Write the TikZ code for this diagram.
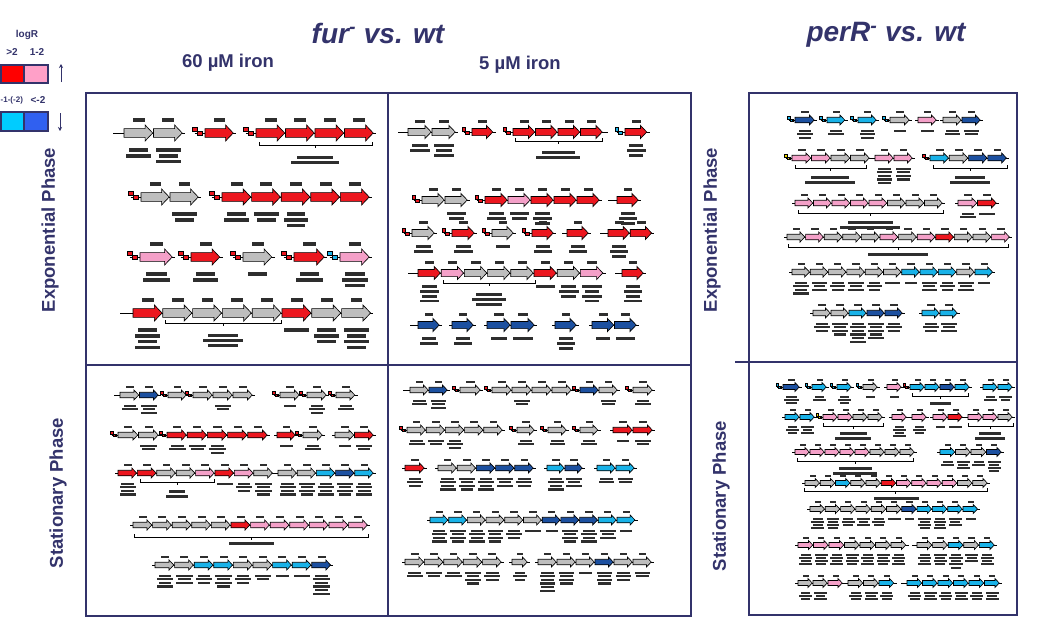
\documentclass[tikz,border=0pt]{standalone}
\usepackage{fontspec}
\setmainfont{Liberation Sans}
\usetikzlibrary{arrows.meta}

\definecolor{navy}{RGB}{51,51,107}
\definecolor{gred}{RGB}{236,22,30}
\definecolor{gpink}{RGB}{244,160,200}
\definecolor{ggray}{RGB}{190,190,190}
\definecolor{gcyan}{RGB}{24,178,232}
\definecolor{gblue}{RGB}{28,80,160}
\definecolor{gyellow}{RGB}{240,220,0}
\definecolor{lgred}{RGB}{255,0,0}
\definecolor{lgpink}{RGB}{255,160,200}
\definecolor{lgcyan}{RGB}{0,204,255}
\definecolor{lgblue}{RGB}{48,96,240}

\tikzset{
  gene/.style={draw=black, line width=0.65pt},
  gline/.style={draw=black, line width=0.7pt},
  lbl/.style={fill=black!82},
  tss/.style={draw=black, line width=0.3pt},
  frame/.style={draw=navy, line width=1.8pt},
  legbox/.style={draw=navy, line width=1.4pt},
  ttl/.style={text=navy, font=\fontsize{28}{30}\selectfont\bfseries\itshape, inner sep=0pt},
  sub/.style={text=navy, font=\fontsize{18.5}{20}\selectfont\bfseries, inner sep=0pt},
  side/.style={text=navy, font=\fontsize{18.5}{20}\selectfont\bfseries, inner sep=0pt, rotate=90},
  lg/.style={text=navy, font=\fontsize{10}{11}\selectfont\bfseries, inner sep=0pt},
  updown/.style={draw=navy, line width=0.9pt, -{Stealth[length=4pt,width=4pt]}},
  brk/.style={draw=black, line width=0.9pt}
}

% a row of adjacent genes: x0, gene width, y, half head height, {colour/label-lines,...}
\newcommand\grow[5]{%
  \foreach \gcol/\gnum [count=\gidx from 0] in {#5}{%
    \draw[gline] ({#1+\gidx*#2-3},#3) -- ({#1+\gidx*#2+#2+2},#3);}%
  \foreach \gcol/\gnum [count=\gidx from 0] in {#5}{%
    \pgfmathsetmacro\xa{#1+\gidx*#2}%
    \pgfmathsetmacro\xb{\xa+#2-0.8}%
    \pgfmathsetmacro\xh{\xb-0.95*#4}%
    \filldraw[gene,fill=\gcol] (\xa,{#3-0.55*#4}) -- (\xh,{#3-0.55*#4}) -- (\xh,{#3-#4}) -- (\xb,#3) -- (\xh,{#3+#4}) -- (\xh,{#3+0.55*#4}) -- (\xa,{#3+0.55*#4}) -- cycle;
    \fill[lbl] ({\xa+0.3*#2},{#3-1.85*#4}) rectangle ({\xa+0.7*#2},{#3-1.42*#4});
    \ifnum\gnum>0
      \foreach \gk in {1,...,\gnum}{%
        \pgfmathsetmacro\gww{(0.84-0.2*mod(\gk+\gidx,2))*#2}%
        \fill[lbl] ({\xa+0.5*#2-0.5*\gww},{#3+1.2*#4+\gk*0.72*#4}) rectangle ++(\gww,{0.45*#4});}%
    \fi
  }%
}
% promoter mark in front of a gene: x of gene start, y, half head height, colour
\newcommand\tssmark[4]{%
  \draw[gline] ({#1-1.3*#3},#2) -- (#1,#2);
  \filldraw[tss,fill=#4] ({#1-1.55*#3},{#2-0.75*#3}) rectangle ++({0.55*#3},{0.55*#3});
  \filldraw[tss,fill=#4] ({#1-1.0*#3},{#2-0.2*#3}) rectangle ++({0.6*#3},{0.5*#3});
}
% operon bracket: x1, x2, y
\newcommand\brkt[3]{%
  \draw[brk] (#1,#3-3) -- (#1,#3) -- (#2,#3) -- (#2,#3-3);
  \draw[brk] ({(#1+#2)/2},#3) -- ++(0,3);
}
% block of small description lines: x centre, y top, width, lines
\newcommand\desc[4]{%
  \foreach \gk in {1,...,#4}{%
    \pgfmathsetmacro\gww{(1-0.25*mod(\gk,2))*#3}%
    \fill[lbl] ({#1-0.5*\gww},{#2+(\gk-1)*5}) rectangle ++(\gww,2.8);}%
}

\begin{document}
\begin{tikzpicture}[x=1pt,y=-1pt]
\useasboundingbox (0,0) rectangle (1056,624);
\fill[white] (0,0) rectangle (1056,624);

% ---------- legend ----------
\node[lg] (lgR) at (27,35) {logR};
\node[lg] (lgA) at (12,52) {>2};
\node[lg] (lgB) at (37,52) {1-2};
\node[lg, anchor=west, font=\fontsize{8}{9}\selectfont\bfseries] (lgC) at (0.5,100) {-1-(-2)};
\node[lg] (lgD) at (38,100) {<-2};
\draw[legbox, fill=lgred] (1,65) rectangle (24,83);
\draw[legbox, fill=lgpink] (24,65) rectangle (48,83);
\draw[legbox, fill=lgcyan] (1,112) rectangle (24,131);
\draw[legbox, fill=lgblue] (24,112) rectangle (48,131);
\coordinate (upA) at (61,82); \coordinate (upB) at (61,64);
\coordinate (dnA) at (60,113); \coordinate (dnB) at (60,131);
\draw[updown] (upA) -- (upB);
\draw[updown] (dnA) -- (dnB);

% ---------- titles ----------
\node[ttl] (furT) at (378,33) {fur\textsuperscript{-} vs. wt};
\node[ttl] (perT) at (886,35) {perR\textsuperscript{-} vs. wt};
\node[sub] (c60) at (228,63) {60 µM iron};
\node[sub] (c5) at (520,65) {5 µM iron};
\node[side] (expL) at (50,230) {Exponential Phase};
\node[side] (staL) at (58,493) {Stationary Phase};
\node[side] (expR) at (712,230) {Exponential Phase};
\node[side] (staR) at (721,496) {Stationary Phase};

% ---------- frames ----------
\draw[frame] (86,93) rectangle (691,616);
\draw[frame] (388,93) -- (388,616);
\draw[frame] (86,365) -- (691,365);
\draw[frame] (749,93) rectangle (1017,615);
\draw[frame] (735,362) -- (1017,362);

% ===== fur, 60 uM, exponential =====
\draw[gline] (113,133) -- (124,133);
\grow{124}{29.5}{133}{8}{ggray/2,ggray/3}
\tssmark{205}{133}{8}{gred}
\grow{205}{29}{133}{8}{gred/0}
\tssmark{256}{133}{8}{gred}
\grow{256}{29.5}{133}{8}{gred/0,gred/0,gred/0,gred/0}
\brkt{259}{372}{145}
\desc{315}{156}{48}{2}

\tssmark{141}{197}{8}{gred}
\grow{141}{29}{197}{8}{ggray/0,ggray/2}
\tssmark{222}{197}{8}{gred}
\grow{222}{29.6}{197}{8}{gred/2,gred/2,gred/3,gred/0,gred/0}

\tssmark{140}{257}{8}{gred}
\grow{140}{33}{257}{8}{gpink/2}
\tssmark{191}{257}{8}{gred}
\grow{191}{29.5}{257}{8}{gred/2}
\tssmark{243}{257}{8}{gred}
\grow{243}{29.5}{257}{8}{ggray/1}
\tssmark{294}{257}{8}{gred}
\grow{294}{31}{257}{8}{gred/2}
\tssmark{340}{257}{8}{gcyan}
\grow{340}{30}{257}{8}{gpink/3}

\draw[gline] (120,313) -- (133,313);
\grow{133}{29.8}{313}{8}{gred/4,ggray/0,ggray/0,ggray/0,ggray/0,gred/1,ggray/3,ggray/4}
\brkt{165}{281}{323}
\desc{223}{334}{40}{3}

% ===== fur, 5 uM, exponential =====
\draw[gline] (398,132) -- (408,132);
\grow{408}{24}{132}{6.5}{ggray/2,ggray/3}
\tssmark{472}{132}{6.5}{gred}
\grow{472}{21.5}{132}{6.5}{gred/0}
\tssmark{513}{132}{6.5}{gred}
\grow{513}{22.5}{132}{6.5}{gred/0,gred/0,gred/0,gred/0}
\draw[gline] (603,132) -- (608,132);
\tssmark{625}{132}{6.5}{gcyan}
\grow{625}{22.5}{132}{6.5}{gred/3}
\brkt{515}{602}{141}
\desc{558}{151}{44}{2}

\tssmark{422}{200}{6.5}{gred}
\grow{422}{23}{200}{6.5}{ggray/0,ggray/2}
\tssmark{485}{200}{6.5}{gred}
\grow{485}{23}{200}{6.5}{gred/2,gpink/2,gred/3,gred/0,gred/0}
\draw[gline] (608,200) -- (617,200);
\grow{617}{22}{200}{6.5}{gred/3}

\tssmark{412}{233}{6.5}{gred}
\grow{412}{23}{233}{6.5}{ggray/2}
\tssmark{452}{233}{6.5}{gred}
\grow{452}{23}{233}{6.5}{gred/2}
\tssmark{492}{233}{6.5}{gred}
\grow{492}{22}{233}{6.5}{ggray/1}
\tssmark{532}{233}{6.5}{gred}
\grow{532}{22}{233}{6.5}{gred/2}
\draw[gline] (562,233) -- (567,233);
\grow{567}{22}{233}{6.5}{gred/2}
\draw[gline] (600,233) -- (608,233);
\grow{608}{22.2}{233}{6.5}{gred/3,gred/0}

\draw[gline] (408,273) -- (418,273);
\grow{418}{23.2}{273}{6.5}{gred/4,gpink/0,ggray/0,ggray/0,ggray/0,gred/1,ggray/3,gpink/4}
\draw[gline] (615,273) -- (622,273);
\grow{622}{22}{273}{6.5}{gred/4}
\brkt{443}{535}{283}
\desc{489}{293}{34}{3}

\draw[gline] (410,325) -- (418,325);
\grow{418}{22}{325}{6.5}{gblue/2}
\grow{452}{22}{325}{6.5}{gblue/2}
\grow{487}{24}{325}{6.5}{gblue/1,gblue/1}
\grow{555}{22}{325}{6.5}{gblue/3}
\grow{592}{22.5}{325}{6.5}{gblue/1,gblue/1}

% ===== fur, 60 uM, stationary =====
\draw[gline] (114,395) -- (120,395);
\grow{120}{19.5}{395}{5}{ggray/2,gblue/3}
\tssmark{168}{395}{5}{gred}
\grow{168}{19}{395}{5}{ggray/0}
\tssmark{193}{395}{5}{gred}
\grow{193}{20}{395}{5}{ggray/0,ggray/2,ggray/0}
\tssmark{280}{395}{5}{gred}
\grow{280}{20}{395}{5}{ggray/1}
\tssmark{307}{395}{5}{gred}
\grow{307}{20}{395}{5}{ggray/3}
\tssmark{336}{395}{5}{gred}
\grow{336}{19.5}{395}{5}{ggray/2}

\tssmark{118}{435}{5}{gred}
\grow{118}{20.5}{435}{5}{ggray/0,ggray/2}
\tssmark{167}{435}{5}{gred}
\grow{167}{20.2}{435}{5}{gred/2,gred/2,gred/3,gred/0,gred/0}
\grow{277}{19}{435}{5}{gred/1}
\tssmark{303}{435}{5}{gred}
\grow{303}{20}{435}{5}{ggray/2}
\grow{335}{19.5}{435}{5}{ggray/1,gred/2}

\grow{118}{19.4}{473}{5}{gred/4,gred/0,ggray/0,ggray/0,gpink/0,gred/1,gpink/3,ggray/4}
\grow{278}{19.2}{473}{5}{ggray/4,ggray/4,gcyan/4,gblue/4,gcyan/4}
\brkt{140}{214}{482}
\desc{177}{490}{22}{2}

\draw[gline] (130,525) -- (133,525);
\grow{133}{19.6}{525}{5}{ggray/0,ggray/0,ggray/0,ggray/0,ggray/0,gred/0,gpink/0,gpink/0,gpink/0,gpink/0,gpink/0,gpink/0}
\brkt{134}{368}{537}
\desc{251}{542}{60}{1}

\grow{155}{19.6}{565}{5}{ggray/4,ggray/3,gcyan/3,gcyan/4,ggray/3,ggray/2,gcyan/1,gcyan/1,gblue/6}

% ===== fur, 5 uM, stationary =====
\draw[gline] (403,390) -- (410,390);
\grow{410}{19}{390}{5}{ggray/2,gblue/3}
\tssmark{460}{390}{5}{gred}
\grow{460}{21}{390}{5}{ggray/0}
\tssmark{492}{390}{5}{gred}
\grow{492}{20}{390}{5}{ggray/0,ggray/2,ggray/0,ggray/0}
\tssmark{580}{390}{5}{gred}
\grow{580}{19}{390}{5}{gblue/0,ggray/2}
\tssmark{633}{390}{5}{gred}
\grow{633}{20}{390}{5}{ggray/2}

\tssmark{407}{430}{5}{gred}
\grow{407}{19.2}{430}{5}{ggray/2,ggray/2,ggray/3,ggray/0,ggray/0}
\tssmark{517}{430}{5}{gred}
\grow{517}{18}{430}{5}{ggray/2}
\tssmark{548}{430}{5}{gred}
\grow{548}{19}{430}{5}{ggray/2}
\tssmark{580}{430}{5}{gred}
\grow{580}{18.5}{430}{5}{ggray/2}
\grow{613}{20}{430}{5}{gred/1,gred/2}

\grow{405}{20}{468}{5}{gred/3}
\grow{438}{19.2}{468}{5}{ggray/4,ggray/4,gblue/4,gblue/3,gblue/3}
\grow{547}{18}{468}{5}{gcyan/4,gblue/3}
\grow{597}{19}{468}{5}{gcyan/2,gcyan/2}

\grow{430}{18.7}{520}{5}{gcyan/4,gcyan/4,ggray/4,ggray/4,ggray/3,ggray/1,gblue/1,gblue/4,gblue/4,gcyan/3,gcyan/1}

\grow{405}{19.4}{562}{5}{ggray/2,ggray/2,ggray/2,ggray/4,ggray/3}
\grow{512}{16}{562}{5}{ggray/3}
\grow{538}{19}{562}{5}{ggray/6,ggray/4,ggray/1,gblue/4,ggray/3,ggray/2}

% ===== perR, exponential =====
\tssmark{795}{120}{5}{gcyan}
\grow{795}{20}{120}{5}{gblue/3}
\tssmark{827}{120}{5}{gcyan}
\grow{827}{18.5}{120}{5}{gcyan/2}
\tssmark{858}{120}{5}{gcyan}
\grow{858}{19}{120}{5}{gcyan/3}
\tssmark{890}{120}{5}{gcyan}
\grow{890}{20}{120}{5}{ggray/1}
\grow{918}{19}{120}{5}{gpink/1}
\grow{943}{19}{120}{5}{ggray/2,gblue/2}

\tssmark{792}{158}{5}{gyellow}
\grow{792}{19.5}{158}{5}{gpink/0,gpink/0,ggray/0,ggray/0}
\grow{875}{19}{158}{5}{gpink/5,gpink/4}
\tssmark{930}{158}{5}{gred}
\grow{930}{19.3}{158}{5}{gcyan/0,ggray/0,gblue/0,gblue/0}
\brkt{795}{866}{168}
\desc{830}{176}{50}{2}
\brkt{933}{1007}{168}
\desc{970}{176}{40}{2}

\grow{795}{18.5}{203}{5}{gpink/0,gpink/0,gpink/0,gpink/0,gpink/0,ggray/0,ggray/0,ggray/0}
\grow{958}{19.5}{203}{5}{gpink/2,gred/1}
\brkt{798}{943}{213}
\desc{870}{221}{60}{2}

\grow{787}{18.6}{237}{5}{ggray/0,gpink/0,ggray/0,ggray/0,ggray/0,gpink/0,ggray/0,gpink/0,gred/0,ggray/0,ggray/0,gpink/0}
\brkt{788}{1008}{247}
\desc{898}{253}{80}{1}

\grow{792}{18.3}{272}{5}{ggray/4,ggray/3,ggray/3,ggray/3,ggray/3,ggray/1,gcyan/1,gcyan/3,gcyan/3,ggray/3,gcyan/1}

\grow{813}{18}{313}{5}{ggray/3,ggray/4,gcyan/6,gblue/5,gblue/3}
\grow{922}{18}{313}{5}{gcyan/3,gcyan/3}

% ===== perR, stationary =====
\tssmark{783}{387}{4.5}{gcyan}
\grow{783}{17}{387}{4.5}{gblue/3}
\tssmark{812}{387}{4.5}{gcyan}
\grow{812}{15}{387}{4.5}{gcyan/2}
\tssmark{837}{387}{4.5}{gcyan}
\grow{837}{15}{387}{4.5}{gcyan/3}
\tssmark{863}{387}{4.5}{gcyan}
\grow{863}{15}{387}{4.5}{ggray/1}
\grow{887}{15}{387}{4.5}{gpink/1}
\tssmark{910}{387}{4.5}{gred}
\grow{910}{15}{387}{4.5}{gcyan/0,gcyan/0,gblue/0,gcyan/0}
\grow{983}{15}{387}{4.5}{gcyan/2,gcyan/2}
\brkt{912}{968}{396}
\desc{940}{402}{28}{1}

\grow{785}{15}{417}{4.5}{gcyan/3,gcyan/3}
\tssmark{823}{417}{4.5}{gyellow}
\grow{823}{15}{417}{4.5}{gpink/0,gpink/0,ggray/0,ggray/0}
\grow{892}{15}{417}{4.5}{gpink/4}
\grow{912}{15}{417}{4.5}{gpink/3}
\grow{933}{15}{417}{4.5}{gpink/1,gred/1}
\grow{968}{15}{417}{4.5}{gpink/0,gpink/0,ggray/0}
\brkt{823}{883}{426}
\desc{853}{432}{36}{2}
\brkt{968}{1013}{426}
\desc{990}{432}{30}{2}

\grow{795}{15}{452}{4.5}{gpink/0,gpink/0,gpink/0,gpink/0,gpink/0,ggray/0,ggray/0,ggray/0}
\grow{940}{15.5}{452}{4.5}{gcyan/2,ggray/3,ggray/2,gblue/4}
\brkt{797}{913}{461}
\desc{855}{467}{44}{2}

\grow{805}{15.25}{483}{4.5}{ggray/0,ggray/0,gcyan/0,ggray/0,ggray/0,gred/0,gpink/0,gpink/0,gpink/0,gpink/0,ggray/0,ggray/0}
\brkt{804}{987}{491}
\desc{896}{497}{60}{1}

\grow{810}{15.3}{509}{4.5}{ggray/4,ggray/4,ggray/3,ggray/3,ggray/3,ggray/1,gblue/1,gcyan/4,gcyan/4,gcyan/3,gcyan/1}

\grow{798}{15.5}{545}{4.5}{gpink/4,gpink/4,gpink/4,ggray/4,ggray/4,ggray/4,ggray/4}
\draw[gline] (912,545) -- (917,545);
\grow{917}{15.6}{545}{4.5}{ggray/4,ggray/4,gcyan/5,ggray/3,gcyan/4}

\grow{798}{15}{583}{4.5}{ggray/3,ggray/3,gpink/0}
\grow{848}{15.5}{583}{4.5}{ggray/3,ggray/3,gcyan/3}
\draw[gline] (901,583) -- (907,583);
\grow{907}{15.5}{583}{4.5}{gcyan/3,gcyan/3,gcyan/3,gcyan/3,gcyan/3,gcyan/3}
\end{tikzpicture}
\end{document}
